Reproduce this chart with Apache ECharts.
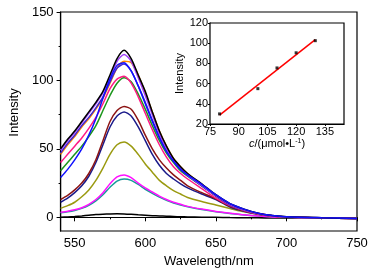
<!DOCTYPE html>
<html>
<head>
<meta charset="utf-8">
<script src="https://cdn.jsdelivr.net/npm/echarts@6/dist/echarts.min.js"></script>
<style>html,body{margin:0;padding:0;background:#fff}#c{width:375px;height:276px}</style>
</head>
<body>
<div id="c"></div>
<script>
// ---- data ----
var wavelengths = [540,545,550,555,560,565,570,575,580,585,590,595,600,605,610,615,620,625,630,640,650,660,670,680,690,700,725,750];

var curveBlackTop = [50,57,63,70,77,84,92,104,116,122,116,104,92,77,63,52,43,37,32,24.5,16.5,10,6,3,1.3,0.4,-0.4,-0.8];
var curveViolet   = [49,56,62,69,76,83,91,102,114,119,114,102,89,75,61,50,42,36,31,23.5,16,9.5,5.5,2.8,1.2,0.3,-0.4,-0.8];
var curveIndigo   = [47,54,60,67,73,80,88,99,109,112,107,96,84,71,59,49,41,35,30.5,23,15.5,9,5.3,2.7,1.1,0.3,-0.4,-0.8];
var curveOrange   = [46,53,59,66,72,79,87,98,109,114,113,104,91,77,63,52,43,37,32,24,16,9.5,5.5,2.8,1.2,0.3,-0.4,-0.8];
var curveBlue     = [29,35,42,50,60,72,87,101,111,113,107,96,83,70,58,48,41,35,31,24,16.5,10,6,3,1.3,0.4,-0.3,-0.8];
var curvePink     = [40,46,52,58,65,73,83,94,101,103,98,88,76,64,53,44,37,32,28,21,14,8.5,5,2.5,1,0.2,-0.4,-0.8];
var curveGreen    = [34,40,46,52,59,67,78,89,98,102,99,90,79,67,56,47,40,34,30,23,15.5,9,5.3,2.7,1.1,0.3,-0.4,-0.8];
var curveMaroon   = [13,16,20,25,32,42,56,70,78,81,79,71,60,50,42,36,31,27,23,18,13.5,8,4.7,2.4,1,0.2,-0.4,-0.8];
var curveNavy     = [11,14,18,23,30,40,53,66,74,77,74,66,56,46,38,32,28,24.5,21.5,17,13,7.5,4.4,2.2,0.9,0.2,-0.4,-0.8];
var curveOlive    = [6.5,8.5,11,15,20,27,36,46,53,55,52,46,39,33,27,23,19.5,17,14.5,11.5,9,6.5,4,2.3,1.1,0.4,-0.3,-0.7];
var curveMagenta  = [3.7,4.5,5.5,7,9.5,13,18,24.5,29.5,31,29,25,21.5,18.5,15.5,13,11,9.5,8,6,4.3,3,1.8,0.9,0.3,0,-0.4,-0.7];
var curveTeal     = [3.3,4,5,6.5,8.8,12,16.5,22,26.5,28,27,24,20.5,17.5,14.8,12.5,10.5,9,7.7,5.7,4.1,2.8,1.7,0.9,0.3,0,-0.4,-0.7];
var curveBlank    = [0,0.3,0.6,1,1.5,2,2.3,2.5,2.6,2.5,2.2,1.8,1.5,1.2,1,0.8,0.6,0.4,0.3,0.1,0,-0.2,-0.3,-0.4,-0.5,-0.5,-0.6,-0.7];

var mainXTicks = [550,600,650,700,750];
var mainXMinor = [575,625,675,725];
var mainYTicks = [0,50,100,150];
var mainYMinor = [25,75,125];

var insetConc = [80,100,110,120,130];
var insetIntensity = [30,55,75.5,90.5,102.5];
var insetXTicks = [75,90,105,120,135];

// ---- styling (kept separate from data) ----
var seriesDefs = [
  {data: curveBlank,    color: '#000000'},
  {data: curveTeal,     color: '#199a9a'},
  {data: curveMagenta,  color: '#ff10ff'},
  {data: curveOlive,    color: '#9a9a10'},
  {data: curveNavy,     color: '#1a1a8a'},
  {data: curveMaroon,   color: '#8c1414'},
  {data: curveGreen,    color: '#1c961c'},
  {data: curvePink,     color: '#ff1a84'},
  {data: curveOrange,   color: '#ff8a00'},
  {data: curveIndigo,   color: '#3a22d8'},
  {data: curveViolet,   color: '#a040f8'},
  {data: curveBlackTop, color: '#000000'},
  {data: curveBlue,     color: '#1010ff'}
];

function pairs(xs, ys){ return xs.map(function(x,i){ return [x, ys[i]]; }); }

// least-squares fit line from the inset data
function fitLine(xs, ys){
  var n = xs.length, mx = 0, my = 0;
  for (var i=0;i<n;i++){ mx += xs[i]; my += ys[i]; }
  mx/=n; my/=n;
  var sxy=0, sxx=0;
  for (var j=0;j<n;j++){ sxy += (xs[j]-mx)*(ys[j]-my); sxx += (xs[j]-mx)*(xs[j]-mx); }
  var b = sxy/sxx, a = my - b*mx;
  var x0 = xs[0], x1 = xs[n-1];
  return [[x0, a+b*x0],[x1, a+b*x1]];
}

var FONT = 'Liberation Sans, Arial, sans-serif';
var chart = echarts.init(document.getElementById('c'), null, {renderer: 'canvas'});

var series = seriesDefs.map(function(d){
  return {type:'line', xAxisIndex:0, yAxisIndex:0, data: pairs(wavelengths, d.data),
    showSymbol:false, smooth:0.25, lineStyle:{color:d.color, width:1.5}, itemStyle:{color:d.color}, z:2};
});
series.push({type:'line', xAxisIndex:2, yAxisIndex:2, data: fitLine(insetConc, insetIntensity),
  showSymbol:false, lineStyle:{color:'#ff0000', width:1.5}, z:5});
series.push({type:'scatter', xAxisIndex:2, yAxisIndex:2, data: pairs(insetConc, insetIntensity),
  symbol:'rect', symbolSize:3, itemStyle:{color:'#000'}, z:6});

chart.setOption({
  animation:false,
  backgroundColor:'#fff',
  grid:[
    {left:59, top:12, width:298, height:219, show:true, borderColor:'#000', borderWidth:1.2, backgroundColor:'transparent'},
    {left:210, top:23, width:134, height:101, show:true, borderColor:'#000', borderWidth:1.2, backgroundColor:'#fff', z:4}
  ],
  xAxis:[
    {type:'value', gridIndex:0, min:540, max:750,
     name:'Wavelength/nm', nameLocation:'middle', nameGap:18,
     nameTextStyle:{fontFamily:FONT, fontSize:13, color:'#000'},
     axisLine:{lineStyle:{color:'#000', width:1.2}},
     axisTick:{customValues:mainXTicks, length:4, lineStyle:{color:'#000', width:1}},
     axisLabel:{customValues:mainXTicks, margin:6, fontFamily:FONT, fontSize:13, color:'#000'},
     splitLine:{show:false}},
    {type:'value', gridIndex:0, min:540, max:750, position:'bottom',
     axisLine:{show:false}, axisLabel:{show:false},
     axisTick:{customValues:mainXMinor, length:2, lineStyle:{color:'#000', width:1}},
     splitLine:{show:false}},
    {type:'value', gridIndex:1, min:75, max:145,
     name:'{i|c}/(μmol•L{s|-1})', nameLocation:'middle', nameGap:13,
     nameTextStyle:{fontFamily:FONT, fontSize:11, color:'#000',
       rich:{i:{fontStyle:'italic', fontFamily:FONT, fontSize:11, color:'#000'},
             s:{fontFamily:FONT, fontSize:7, color:'#000', verticalAlign:'top', padding:[0,0,6,0]}}},
     axisLine:{lineStyle:{color:'#000', width:1.2}},
     axisTick:{customValues:insetXTicks, length:2, lineStyle:{color:'#000', width:1}},
     axisLabel:{customValues:insetXTicks, margin:2, fontFamily:FONT, fontSize:11, color:'#000'},
     splitLine:{show:false}}
  ],
  yAxis:[
    {type:'value', gridIndex:0, min:-10, max:150,
     name:'Intensity', nameLocation:'middle', nameGap:33, nameRotate:90,
     nameTextStyle:{fontFamily:FONT, fontSize:13, color:'#000', padding:[0,0,0,18]},
     axisLine:{lineStyle:{color:'#000', width:1.2}},
     axisTick:{customValues:mainYTicks, length:4, lineStyle:{color:'#000', width:1}},
     axisLabel:{customValues:mainYTicks, margin:7, fontFamily:FONT, fontSize:13, color:'#000'},
     splitLine:{show:false}},
    {type:'value', gridIndex:0, min:-10, max:150, position:'left',
     axisLine:{show:false}, axisLabel:{show:false},
     axisTick:{customValues:mainYMinor, length:2, lineStyle:{color:'#000', width:1}},
     splitLine:{show:false}},
    {type:'value', gridIndex:1, min:20, max:120, interval:20,
     name:'Intensity', nameLocation:'middle', nameGap:19, nameRotate:90,
     nameTextStyle:{fontFamily:FONT, fontSize:11, color:'#000'},
     axisLine:{lineStyle:{color:'#000', width:1.2}},
     axisTick:{length:2, lineStyle:{color:'#000', width:1}},
     axisLabel:{margin:2, fontFamily:FONT, fontSize:11, color:'#000'},
     splitLine:{show:false}}
  ],
  series: series
});
</script>
</body>
</html>
